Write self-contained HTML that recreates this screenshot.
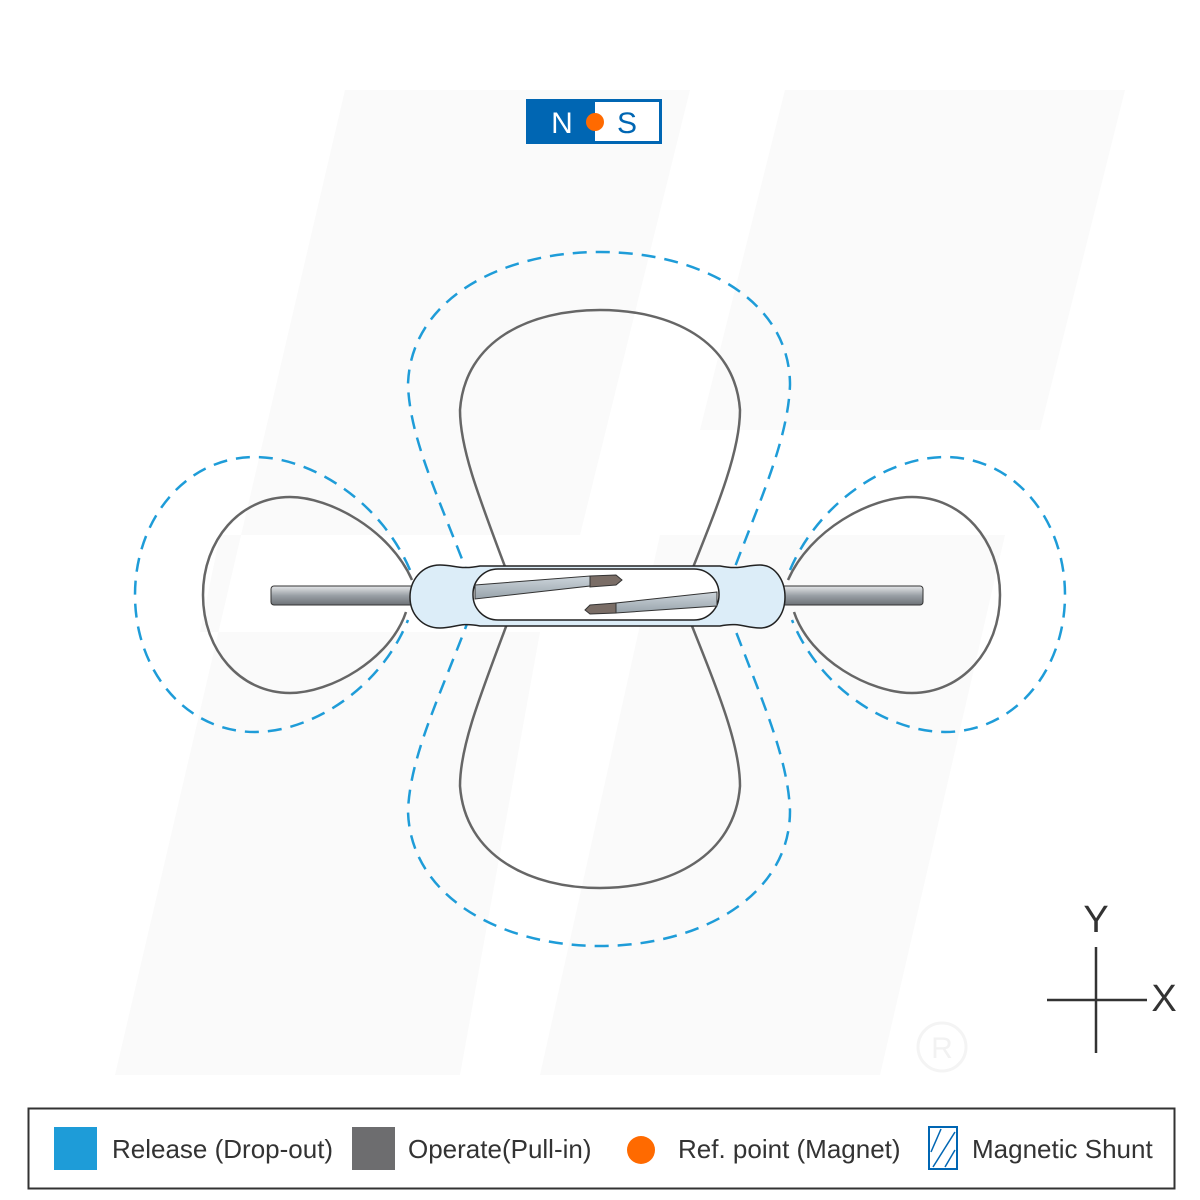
<!DOCTYPE html>
<html><head><style>body{margin:0;background:#fff}svg{display:block}</style></head><body>
<svg width="1200" height="1200" viewBox="0 0 1200 1200" xmlns="http://www.w3.org/2000/svg" font-family="Liberation Sans, sans-serif">
<rect width="1200" height="1200" fill="#fff"/>
<g fill="#fafafa">
<polygon points="345,90 690,90 580,535 220,535 200,632 540,632 460,1075 115,1075"/>
<polygon points="785,90 1125,90 1040,430 700,430"/>
<polygon points="660,535 1005,535 880,1075 540,1075"/>
</g>
<circle cx="942" cy="1047" r="24" fill="none" stroke="#f4f4f4" stroke-width="3"/>
<text x="942" y="1058" font-size="30" fill="#f2f2f2" text-anchor="middle">R</text>
<rect x="527.5" y="100.5" width="133" height="42" fill="#fff" stroke="#0066b3" stroke-width="3"/>
<rect x="527" y="100" width="68" height="44" fill="#0066b3"/>
<text x="562" y="133" font-size="30" fill="#fff" text-anchor="middle">N</text>
<text x="627" y="133" font-size="30" fill="#0066b3" text-anchor="middle">S</text>
<circle cx="595" cy="122" r="9" fill="#ff6a00"/>
<g fill="none" stroke="#666" stroke-width="2.5">
<path d="M510,580 C480,500 460,450 460,410 C465,340 530,310 600,310 C670,310 735,340 740,410 C740,450 720,500 690,575"/>
<path d="M510,616 C480,696 460,746 460,786 C465,856 530,888 600,888 C670,888 735,856 740,786 C740,746 720,696 690,621"/>
<path d="M412,580 C390,530 330,497 290,497 C240,497 203,540 203,595 C203,650 240,693 290,693 C330,693 390,660 406,612"/>
<path d="M788,580 C810,530 870,497 912,497 C962,497 1000,540 1000,595 C1000,650 962,693 912,693 C870,693 810,660 794,612"/>
</g>
<g fill="none" stroke="#1e9cd8" stroke-width="2.5" stroke-dasharray="14,9">
<path d="M470,580 C440,500 410,440 408,385 C410,300 500,252 600,252 C700,252 790,300 790,385 C788,440 760,500 730,580"/>
<path d="M470,616 C440,696 410,756 408,811 C410,896 500,946 600,946 C700,946 790,896 790,811 C788,756 760,696 730,616"/>
<path d="M410,570 C380,500 310,457 255,457 C185,457 135,520 135,595 C135,670 185,732 255,732 C310,732 380,690 408,620"/>
<path d="M790,570 C820,500 890,457 945,457 C1015,457 1065,520 1065,595 C1065,670 1015,732 945,732 C890,732 820,690 792,620"/>
</g>
<defs><linearGradient id="lg" x1="0" y1="0" x2="0" y2="1"><stop offset="0" stop-color="#e5e7e9"/><stop offset="0.5" stop-color="#9aa0a6"/><stop offset="1" stop-color="#6d7277"/></linearGradient>
<linearGradient id="bl" x1="0" y1="0" x2="0" y2="1"><stop offset="0" stop-color="#cdd5db"/><stop offset="1" stop-color="#98a3ab"/></linearGradient></defs>
<rect x="271" y="586" width="145" height="19" rx="3" fill="url(#lg)" stroke="#333" stroke-width="1"/>
<rect x="780" y="586" width="143" height="19" rx="3" fill="url(#lg)" stroke="#333" stroke-width="1"/>
<path d="M440,565 C455,565 460,570 480,566 L720,566 C740,570 745,565 760,565 C775,565 785,580 785,597 C785,614 775,628 760,628 C745,628 740,622 720,626 L480,626 C460,622 455,628 440,628 C422,628 410,614 410,597 C410,580 422,565 440,565 Z" fill="#dcedf8" stroke="#222" stroke-width="1.5"/>
<rect x="473" y="569" width="246" height="51" rx="25" fill="#fff" stroke="#222" stroke-width="1.5"/>
<path d="M475,585 L590,576 L590,586 L475,599 Z" fill="url(#bl)" stroke="#333"/>
<path d="M590,576 L616,575 L622,580 L616,585 L590,587 Z" fill="#7a6d66" stroke="#333"/>
<path d="M717,592 L616,603 L616,613 L717,606 Z" fill="url(#bl)" stroke="#333"/>
<path d="M616,603 L590,605 L585,610 L590,614 L616,613 Z" fill="#7a6d66" stroke="#333"/>
<g stroke="#333" stroke-width="2.5"><line x1="1096" y1="947" x2="1096" y2="1053"/><line x1="1047" y1="1000" x2="1147" y2="1000"/></g>
<text x="1096" y="932" font-size="38" fill="#333" text-anchor="middle">Y</text>
<text x="1164" y="1011" font-size="38" fill="#333" text-anchor="middle">X</text>
<rect x="28.5" y="1108.5" width="1146" height="80" fill="#fff" stroke="#333" stroke-width="2"/>
<rect x="54" y="1127" width="43" height="43" fill="#1e9cd8"/>
<text x="112" y="1158" font-size="26" fill="#333">Release (Drop-out)</text>
<rect x="352" y="1127" width="43" height="43" fill="#6d6d6f"/>
<text x="408" y="1158" font-size="26" fill="#333">Operate(Pull-in)</text>
<circle cx="641" cy="1150" r="14" fill="#ff6a00"/>
<text x="678" y="1158" font-size="26" fill="#333">Ref. point (Magnet)</text>
<rect x="929" y="1127" width="28" height="42" fill="#fff" stroke="#0066b3" stroke-width="2"/>
<g stroke="#0066b3" stroke-width="1.5"><line x1="931" y1="1152" x2="941" y2="1129"/><line x1="933" y1="1167" x2="955" y2="1132"/><line x1="945" y1="1167" x2="955" y2="1150"/></g>
<text x="972" y="1158" font-size="26" fill="#333">Magnetic Shunt</text>
</svg>
</body></html>
